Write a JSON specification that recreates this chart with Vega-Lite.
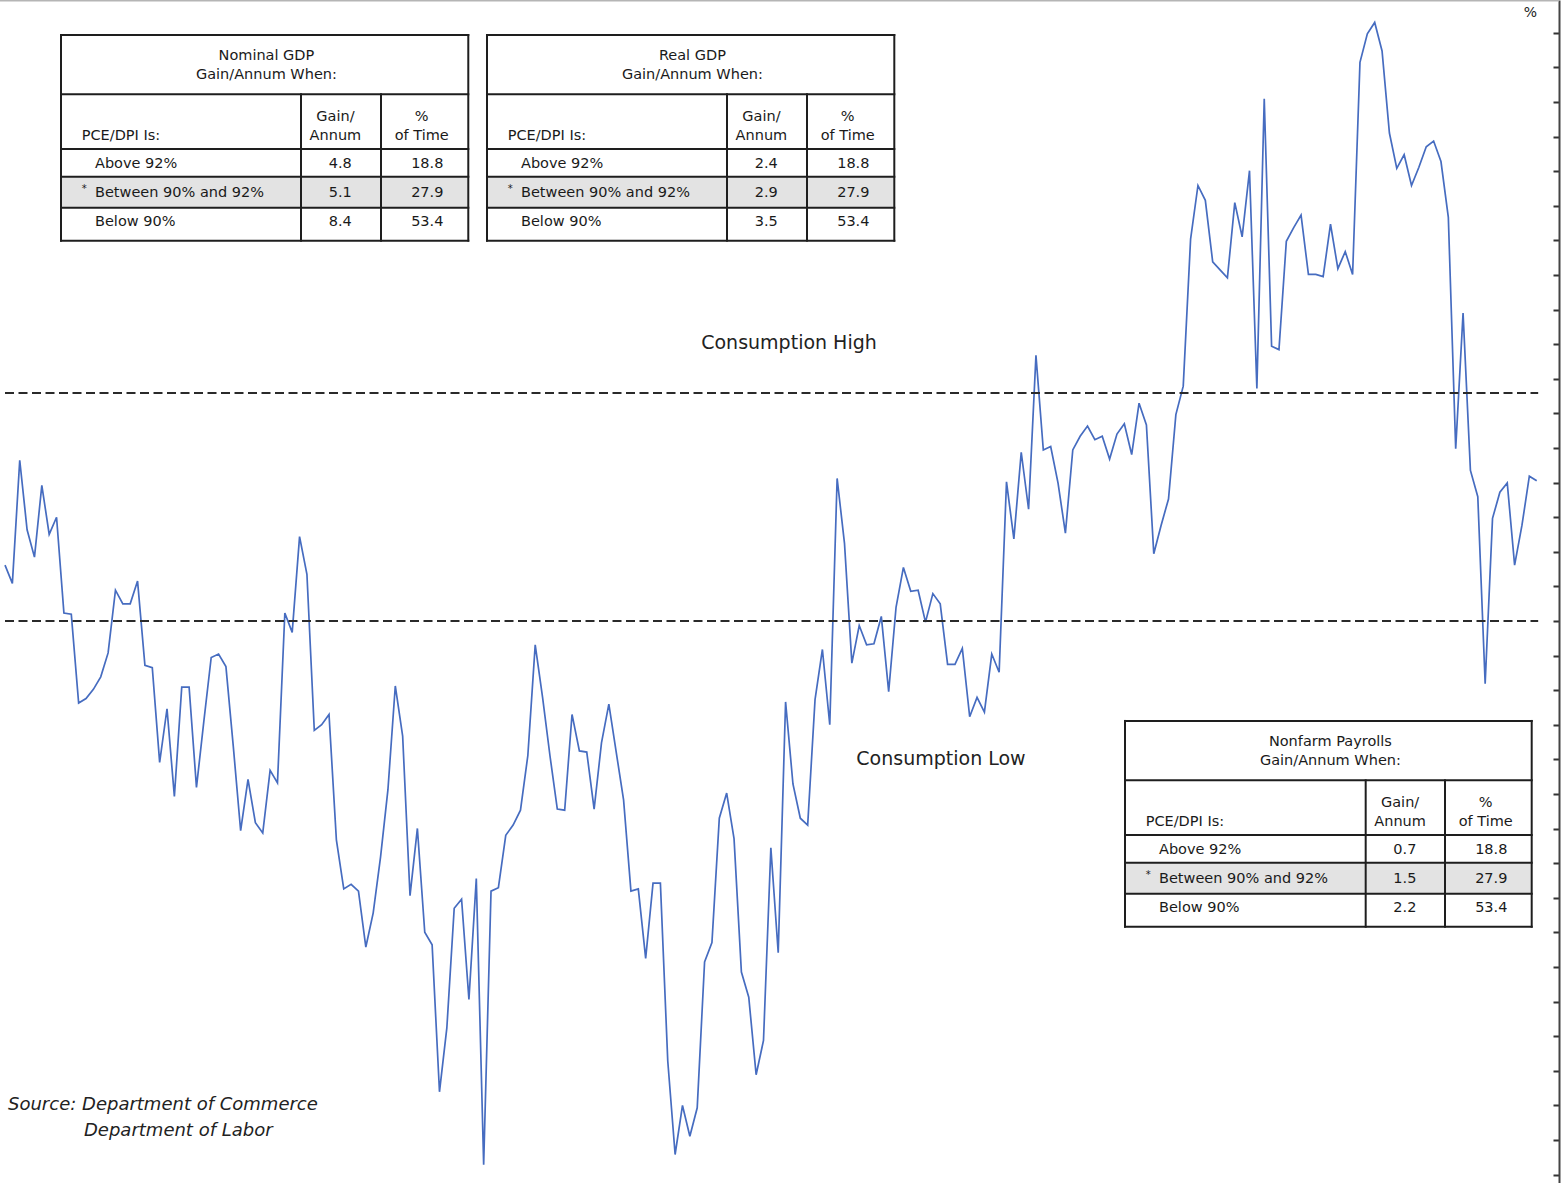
{
  "$schema": "https://vega.github.io/schema/vega-lite/v6.json",
  "width": 1559,
  "height": 1183,
  "padding": {"left": 0, "top": 0, "right": 5, "bottom": 0},
  "autosize": {"type": "none"},
  "background": "white",
  "config": {
    "view": {"stroke": null},
    "font": "DejaVu Sans",
    "axisY": {"labels": false, "ticks": false, "domain": false, "grid": false, "titleOpacity": 0}
  },
  "datasets": {
    "series": [
      {"t":1960.00,"v":90.49},{"t":1960.25,"v":90.33},{"t":1960.50,"v":91.41},{"t":1960.75,"v":90.80},
      {"t":1961.00,"v":90.56},{"t":1961.25,"v":91.19},{"t":1961.50,"v":90.76},{"t":1961.75,"v":90.91},
      {"t":1962.00,"v":90.07},{"t":1962.25,"v":90.06},{"t":1962.50,"v":89.28},{"t":1962.75,"v":89.32},
      {"t":1963.00,"v":89.40},{"t":1963.25,"v":89.51},{"t":1963.50,"v":89.72},{"t":1963.75,"v":90.27},
      {"t":1964.00,"v":90.15},{"t":1964.25,"v":90.15},{"t":1964.50,"v":90.35},{"t":1964.75,"v":89.61},
      {"t":1965.00,"v":89.59},{"t":1965.25,"v":88.76},{"t":1965.50,"v":89.23},{"t":1965.75,"v":88.46},
      {"t":1966.00,"v":89.42},{"t":1966.25,"v":89.42},{"t":1966.50,"v":88.54},{"t":1966.75,"v":89.12},
      {"t":1967.00,"v":89.68},{"t":1967.25,"v":89.71},{"t":1967.50,"v":89.60},{"t":1967.75,"v":88.90},
      {"t":1968.00,"v":88.16},{"t":1968.25,"v":88.61},{"t":1968.50,"v":88.23},{"t":1968.75,"v":88.14},
      {"t":1969.00,"v":88.69},{"t":1969.25,"v":88.58},{"t":1969.50,"v":90.07},{"t":1969.75,"v":89.90},
      {"t":1970.00,"v":90.74},{"t":1970.25,"v":90.41},{"t":1970.50,"v":89.04},{"t":1970.75,"v":89.09},
      {"t":1971.00,"v":89.18},{"t":1971.25,"v":88.08},{"t":1971.50,"v":87.65},{"t":1971.75,"v":87.69},
      {"t":1972.00,"v":87.63},{"t":1972.25,"v":87.14},{"t":1972.50,"v":87.44},{"t":1972.75,"v":87.93},
      {"t":1973.00,"v":88.52},{"t":1973.25,"v":89.43},{"t":1973.50,"v":88.99},{"t":1973.75,"v":87.59},
      {"t":1974.00,"v":88.18},{"t":1974.25,"v":87.27},{"t":1974.50,"v":87.16},{"t":1974.75,"v":85.87},
      {"t":1975.00,"v":86.43},{"t":1975.25,"v":87.48},{"t":1975.50,"v":87.56},{"t":1975.75,"v":86.68},
      {"t":1976.00,"v":87.74},{"t":1976.25,"v":85.23},{"t":1976.50,"v":87.63},{"t":1976.75,"v":87.66},
      {"t":1977.00,"v":88.12},{"t":1977.25,"v":88.21},{"t":1977.50,"v":88.34},{"t":1977.75,"v":88.82},
      {"t":1978.00,"v":89.79},{"t":1978.25,"v":89.33},{"t":1978.50,"v":88.82},{"t":1978.75,"v":88.35},
      {"t":1979.00,"v":88.34},{"t":1979.25,"v":89.18},{"t":1979.50,"v":88.86},{"t":1979.75,"v":88.85},
      {"t":1980.00,"v":88.35},{"t":1980.25,"v":88.93},{"t":1980.50,"v":89.27},{"t":1980.75,"v":88.85},
      {"t":1981.00,"v":88.43},{"t":1981.25,"v":87.63},{"t":1981.50,"v":87.65},{"t":1981.75,"v":87.04},
      {"t":1982.00,"v":87.70},{"t":1982.25,"v":87.70},{"t":1982.50,"v":86.14},{"t":1982.75,"v":85.32},
      {"t":1983.00,"v":85.75},{"t":1983.25,"v":85.48},{"t":1983.50,"v":85.73},{"t":1983.75,"v":87.01},
      {"t":1984.00,"v":87.18},{"t":1984.25,"v":88.27},{"t":1984.50,"v":88.49},{"t":1984.75,"v":88.09},
      {"t":1985.00,"v":86.92},{"t":1985.25,"v":86.70},{"t":1985.50,"v":86.02},{"t":1985.75,"v":86.32},
      {"t":1986.00,"v":88.01},{"t":1986.25,"v":87.09},{"t":1986.50,"v":89.29},{"t":1986.75,"v":88.57},
      {"t":1987.00,"v":88.27},{"t":1987.25,"v":88.21},{"t":1987.50,"v":89.31},{"t":1987.75,"v":89.75},
      {"t":1988.00,"v":89.09},{"t":1988.25,"v":91.25},{"t":1988.50,"v":90.68},{"t":1988.75,"v":89.63},
      {"t":1989.00,"v":89.96},{"t":1989.25,"v":89.79},{"t":1989.50,"v":89.80},{"t":1989.75,"v":90.04},
      {"t":1990.00,"v":89.38},{"t":1990.25,"v":90.12},{"t":1990.50,"v":90.47},{"t":1990.75,"v":90.26},
      {"t":1991.00,"v":90.27},{"t":1991.25,"v":89.99},{"t":1991.50,"v":90.24},{"t":1991.75,"v":90.15},
      {"t":1992.00,"v":89.62},{"t":1992.25,"v":89.62},{"t":1992.50,"v":89.76},{"t":1992.75,"v":89.16},
      {"t":1993.00,"v":89.33},{"t":1993.25,"v":89.20},{"t":1993.50,"v":89.71},{"t":1993.75,"v":89.55},
      {"t":1994.00,"v":91.22},{"t":1994.25,"v":90.72},{"t":1994.50,"v":91.48},{"t":1994.75,"v":90.98},
      {"t":1995.00,"v":92.33},{"t":1995.25,"v":91.50},{"t":1995.50,"v":91.53},{"t":1995.75,"v":91.21},
      {"t":1996.00,"v":90.77},{"t":1996.25,"v":91.50},{"t":1996.50,"v":91.62},{"t":1996.75,"v":91.71},
      {"t":1997.00,"v":91.59},{"t":1997.25,"v":91.62},{"t":1997.50,"v":91.42},{"t":1997.75,"v":91.64},
      {"t":1998.00,"v":91.73},{"t":1998.25,"v":91.46},{"t":1998.50,"v":91.91},{"t":1998.75,"v":91.72},
      {"t":1999.00,"v":90.59},{"t":1999.25,"v":90.84},{"t":1999.50,"v":91.07},{"t":1999.75,"v":91.81},
      {"t":2000.00,"v":92.06},{"t":2000.25,"v":93.35},{"t":2000.50,"v":93.82},{"t":2000.75,"v":93.69},
      {"t":2001.00,"v":93.15},{"t":2001.25,"v":93.08},{"t":2001.50,"v":93.01},{"t":2001.75,"v":93.67},
      {"t":2002.00,"v":93.37},{"t":2002.25,"v":93.95},{"t":2002.50,"v":92.04},{"t":2002.75,"v":94.58},
      {"t":2003.00,"v":92.41},{"t":2003.25,"v":92.38},{"t":2003.50,"v":93.33},{"t":2003.75,"v":93.45},
      {"t":2004.00,"v":93.56},{"t":2004.25,"v":93.04},{"t":2004.50,"v":93.04},{"t":2004.75,"v":93.02},
      {"t":2005.00,"v":93.48},{"t":2005.25,"v":93.09},{"t":2005.50,"v":93.24},{"t":2005.75,"v":93.04},
      {"t":2006.00,"v":94.90},{"t":2006.25,"v":95.15},{"t":2006.50,"v":95.25},{"t":2006.75,"v":95.00},
      {"t":2007.00,"v":94.28},{"t":2007.25,"v":93.97},{"t":2007.50,"v":94.09},{"t":2007.75,"v":93.82},
      {"t":2008.00,"v":93.98},{"t":2008.25,"v":94.16},{"t":2008.50,"v":94.21},{"t":2008.75,"v":94.03},
      {"t":2009.00,"v":93.54},{"t":2009.25,"v":91.51},{"t":2009.50,"v":92.70},{"t":2009.75,"v":91.32},
      {"t":2010.00,"v":91.09},{"t":2010.25,"v":89.45},{"t":2010.50,"v":90.90},{"t":2010.75,"v":91.13},
      {"t":2011.00,"v":91.21},{"t":2011.25,"v":90.49},{"t":2011.50,"v":90.84},{"t":2011.75,"v":91.27},
      {"t":2012.00,"v":91.23}
    ],
    "tablegrid": [
      {"t0":1961.901,"t1":1975.728,"v0":95.140,"v1":95.140},
      {"t0":1961.901,"t1":1975.728,"v0":94.620,"v1":94.620},
      {"t0":1961.901,"t1":1975.728,"v0":94.140,"v1":94.140},
      {"t0":1961.901,"t1":1975.728,"v0":93.897,"v1":93.897},
      {"t0":1961.901,"t1":1975.728,"v0":93.625,"v1":93.625},
      {"t0":1961.901,"t1":1975.728,"v0":93.336,"v1":93.336},
      {"t0":1961.901,"t1":1961.901,"v0":95.140,"v1":93.336},
      {"t0":1975.728,"t1":1975.728,"v0":95.140,"v1":93.336},
      {"t0":1970.049,"t1":1970.049,"v0":94.620,"v1":93.336},
      {"t0":1972.765,"t1":1972.765,"v0":94.620,"v1":93.336},
      {"t0":1976.363,"t1":1990.191,"v0":95.140,"v1":95.140},
      {"t0":1976.363,"t1":1990.191,"v0":94.620,"v1":94.620},
      {"t0":1976.363,"t1":1990.191,"v0":94.140,"v1":94.140},
      {"t0":1976.363,"t1":1990.191,"v0":93.897,"v1":93.897},
      {"t0":1976.363,"t1":1990.191,"v0":93.625,"v1":93.625},
      {"t0":1976.363,"t1":1990.191,"v0":93.336,"v1":93.336},
      {"t0":1976.363,"t1":1976.363,"v0":95.140,"v1":93.336},
      {"t0":1990.191,"t1":1990.191,"v0":95.140,"v1":93.336},
      {"t0":1984.511,"t1":1984.511,"v0":94.620,"v1":93.336},
      {"t0":1987.227,"t1":1987.227,"v0":94.620,"v1":93.336},
      {"t0":1998.023,"t1":2011.830,"v0":89.123,"v1":89.123},
      {"t0":1998.023,"t1":2011.830,"v0":88.602,"v1":88.602},
      {"t0":1998.023,"t1":2011.830,"v0":88.123,"v1":88.123},
      {"t0":1998.023,"t1":2011.830,"v0":87.880,"v1":87.880},
      {"t0":1998.023,"t1":2011.830,"v0":87.608,"v1":87.608},
      {"t0":1998.023,"t1":2011.830,"v0":87.318,"v1":87.318},
      {"t0":1998.023,"t1":1998.023,"v0":89.123,"v1":87.318},
      {"t0":2011.830,"t1":2011.830,"v0":89.123,"v1":87.318},
      {"t0":2006.194,"t1":2006.194,"v0":88.602,"v1":87.318},
      {"t0":2008.886,"t1":2008.886,"v0":88.602,"v1":87.318}
    ],
    "shaded": [
      {"t0":1961.901,"t1":1975.728,"v0":93.897,"v1":93.625},
      {"t0":1976.363,"t1":1990.191,"v0":93.897,"v1":93.625},
      {"t0":1998.023,"t1":2011.830,"v0":87.880,"v1":87.608}
    ],
    "centered": [
      {"t":1968.874,"v":94.956,"text":"Nominal GDP"},
      {"t":1968.874,"v":94.789,"text":"Gain/Annum When:"},
      {"t":1971.217,"v":94.418,"text":"Gain/"},
      {"t":1971.217,"v":94.254,"text":"Annum"},
      {"t":1974.146,"v":94.418,"text":"%"},
      {"t":1974.146,"v":94.254,"text":"of Time"},
      {"t":1971.379,"v":94.006,"text":"4.8"},
      {"t":1974.336,"v":94.006,"text":"18.8"},
      {"t":1971.379,"v":93.751,"text":"5.1"},
      {"t":1974.336,"v":93.751,"text":"27.9"},
      {"t":1971.379,"v":93.497,"text":"8.4"},
      {"t":1974.336,"v":93.497,"text":"53.4"},
      {"t":1983.336,"v":94.956,"text":"Real GDP"},
      {"t":1983.336,"v":94.789,"text":"Gain/Annum When:"},
      {"t":1985.679,"v":94.418,"text":"Gain/"},
      {"t":1985.679,"v":94.254,"text":"Annum"},
      {"t":1988.609,"v":94.418,"text":"%"},
      {"t":1988.609,"v":94.254,"text":"of Time"},
      {"t":1985.842,"v":94.006,"text":"2.4"},
      {"t":1988.799,"v":94.006,"text":"18.8"},
      {"t":1985.842,"v":93.751,"text":"2.9"},
      {"t":1988.799,"v":93.751,"text":"27.9"},
      {"t":1985.842,"v":93.497,"text":"3.5"},
      {"t":1988.799,"v":93.497,"text":"53.4"},
      {"t":2004.996,"v":88.939,"text":"Nonfarm Payrolls"},
      {"t":2004.996,"v":88.772,"text":"Gain/Annum When:"},
      {"t":2007.362,"v":88.401,"text":"Gain/"},
      {"t":2007.362,"v":88.237,"text":"Annum"},
      {"t":2010.268,"v":88.401,"text":"%"},
      {"t":2010.268,"v":88.237,"text":"of Time"},
      {"t":2007.525,"v":87.989,"text":"0.7"},
      {"t":2010.458,"v":87.989,"text":"18.8"},
      {"t":2007.525,"v":87.734,"text":"1.5"},
      {"t":2010.458,"v":87.734,"text":"27.9"},
      {"t":2007.525,"v":87.480,"text":"2.2"},
      {"t":2010.458,"v":87.480,"text":"53.4"}
    ],
    "leftlabels": [
      {"t":1962.604,"v":94.254,"text":"PCE/DPI Is:"},
      {"t":1963.055,"v":94.006,"text":"Above 92%"},
      {"t":1963.055,"v":93.751,"text":"Between 90% and 92%"},
      {"t":1963.055,"v":93.497,"text":"Below 90%"},
      {"t":1977.066,"v":94.254,"text":"PCE/DPI Is:"},
      {"t":1977.517,"v":94.006,"text":"Above 92%"},
      {"t":1977.517,"v":93.751,"text":"Between 90% and 92%"},
      {"t":1977.517,"v":93.497,"text":"Below 90%"},
      {"t":1998.725,"v":88.237,"text":"PCE/DPI Is:"},
      {"t":1999.177,"v":87.989,"text":"Above 92%"},
      {"t":1999.177,"v":87.734,"text":"Between 90% and 92%"},
      {"t":1999.177,"v":87.480,"text":"Below 90%"}
    ],
    "stars": [
      {"t":1962.604,"v":93.789,"text":"*"},
      {"t":1977.066,"v":93.789,"text":"*"},
      {"t":1998.725,"v":87.772,"text":"*"}
    ]
  },
  "layer": [
    {
      "data": {"name": "series"},
      "mark": {"type": "line", "color": "#466cc0", "strokeWidth": 1.7},
      "encoding": {
        "x": {"field": "t", "type": "quantitative", "scale": {"domain": [1959.83, 2012.757], "nice": false, "zero": false}, "axis": null},
        "y": {
          "field": "v", "type": "quantitative",
          "scale": {"domain": [85.07, 95.447], "nice": false, "zero": false},
          "axis": {
            "orient": "right",
            "values": [85.144,85.447,85.751,86.054,86.358,86.661,86.965,87.268,87.572,87.875,88.179,88.482,88.786,89.089,89.393,89.696,90,90.304,90.607,90.911,91.214,91.518,91.821,92.125,92.428,92.732,93.035,93.339,93.642,93.946,94.249,94.553,94.856,95.16],
            "tickCount": 100,
            "labels": false,
            "ticks": true,
            "tickSize": -6,
            "tickWidth": 2,
            "tickColor": "#333333",
            "domain": true,
            "domainColor": "#444444",
            "domainWidth": 2,
            "grid": false,
            "offset": 0,
            "title": "%",
            "titleOpacity": 1,
            "titleAngle": 0,
            "titleX": -29,
            "titleY": 12,
            "titleAlign": "center",
            "titleBaseline": "middle",
            "titleFontSize": 14,
            "titleFontWeight": "normal",
            "titleFont": "DejaVu Sans",
            "titleColor": "#222222"
          }
        }
      }
    },
    {
      "data": {"name": "shaded"},
      "mark": {"type": "rect", "fill": "#e3e3e3"},
      "encoding": {
        "x": {"field": "t0", "type": "quantitative", "axis": null},
        "x2": {"field": "t1"},
        "y": {"field": "v0", "type": "quantitative"},
        "y2": {"field": "v1"}
      }
    },
    {
      "data": {"values": [{}]},
      "mark": {"type": "rule", "color": "#b5b5b5", "strokeWidth": 1.5},
      "encoding": {"y": {"datum": 95.44, "type": "quantitative"}}
    },
    {
      "data": {"values": [{}]},
      "mark": {"type": "rule", "color": "#2a2a2a", "strokeWidth": 2, "strokeDash": [9, 4.5]},
      "encoding": {
        "x": {"datum": 1960, "type": "quantitative", "axis": null},
        "x2": {"datum": 2012.05},
        "y": {"datum": 92, "type": "quantitative"}
      }
    },
    {
      "data": {"values": [{}]},
      "mark": {"type": "rule", "color": "#2a2a2a", "strokeWidth": 2, "strokeDash": [9, 4.5]},
      "encoding": {
        "x": {"datum": 1960, "type": "quantitative", "axis": null},
        "x2": {"datum": 2012.05},
        "y": {"datum": 90, "type": "quantitative"}
      }
    },
    {
      "data": {"name": "tablegrid"},
      "mark": {"type": "rule", "color": "#1e1e1e", "strokeWidth": 2, "strokeCap": "square"},
      "encoding": {
        "x": {"field": "t0", "type": "quantitative", "axis": null},
        "x2": {"field": "t1"},
        "y": {"field": "v0", "type": "quantitative"},
        "y2": {"field": "v1"}
      }
    },
    {
      "data": {"name": "centered"},
      "mark": {"type": "text", "font": "DejaVu Sans", "fontSize": 14.5, "color": "#1a1a1a", "align": "center", "baseline": "middle"},
      "encoding": {
        "x": {"field": "t", "type": "quantitative", "axis": null},
        "y": {"field": "v", "type": "quantitative"},
        "text": {"field": "text"}
      }
    },
    {
      "data": {"name": "leftlabels"},
      "mark": {"type": "text", "font": "DejaVu Sans", "fontSize": 14.5, "color": "#1a1a1a", "align": "left", "baseline": "middle"},
      "encoding": {
        "x": {"field": "t", "type": "quantitative", "axis": null},
        "y": {"field": "v", "type": "quantitative"},
        "text": {"field": "text"}
      }
    },
    {
      "data": {"name": "stars"},
      "mark": {"type": "text", "font": "DejaVu Sans", "fontSize": 10, "color": "#1a1a1a", "align": "left", "baseline": "middle"},
      "encoding": {
        "x": {"field": "t", "type": "quantitative", "axis": null},
        "y": {"field": "v", "type": "quantitative"},
        "text": {"field": "text"}
      }
    },
    {
      "data": {"values": [{}]},
      "mark": {"type": "text", "font": "DejaVu Sans", "fontSize": 19, "color": "#222222", "align": "center", "baseline": "middle"},
      "encoding": {
        "x": {"datum": 1986.616, "type": "quantitative", "axis": null},
        "y": {"datum": 92.44, "type": "quantitative"},
        "text": {"value": "Consumption High"}
      }
    },
    {
      "data": {"values": [{}]},
      "mark": {"type": "text", "font": "DejaVu Sans", "fontSize": 19, "color": "#222222", "align": "center", "baseline": "middle"},
      "encoding": {
        "x": {"datum": 1991.776, "type": "quantitative", "axis": null},
        "y": {"datum": 88.79, "type": "quantitative"},
        "text": {"value": "Consumption Low"}
      }
    },
    {
      "data": {"values": [{}]},
      "mark": {"type": "text", "font": "DejaVu Sans", "fontSize": 18, "fontStyle": "italic", "color": "#222222", "align": "left", "baseline": "middle"},
      "encoding": {
        "x": {"datum": 1960.102, "type": "quantitative", "axis": null},
        "y": {"datum": 85.754, "type": "quantitative"},
        "text": {"value": "Source: Department of Commerce"}
      }
    },
    {
      "data": {"values": [{}]},
      "mark": {"type": "text", "font": "DejaVu Sans", "fontSize": 18, "fontStyle": "italic", "color": "#222222", "align": "left", "baseline": "middle"},
      "encoding": {
        "x": {"datum": 1962.682, "type": "quantitative", "axis": null},
        "y": {"datum": 85.526, "type": "quantitative"},
        "text": {"value": "Department of Labor"}
      }
    }
  ]
}
